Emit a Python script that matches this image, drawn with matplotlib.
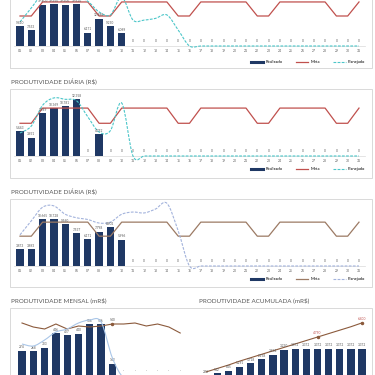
import matplotlib
matplotlib.use('Agg')
import matplotlib.pyplot as plt
from matplotlib.path import Path
from matplotlib.patches import PathPatch, Rectangle
from matplotlib.lines import Line2D
import numpy as np

plt.rcParams['font.family'] = ['Lato', 'DejaVu Sans']

# ---------------- data ----------------
days = ["01", "02", "03", "04", "05", "06", "07", "08", "09", "10", "11", "12", "13", "14", "15", "16",
        "17", "18", "19", "20", "21", "22", "23", "24", "25", "26", "27", "28", "29", "30", "31"]

p1_real = [9410, 7553, 19400, 19550, 19500, 19610, 6171, 12890, 9250, 6089,
           0, 0, 0, 0, 0, 0, 0, 0, 0, 0, 0, 0, 0, 0, 0, 0, 0, 0, 0, 0, 0]
p1_meta = [14100, 14100, 20700, 20700, 20700, 20700, 20700, 14100, 14100, 20700, 20700, 20700, 20700, 20700,
           14100, 14100, 20700, 20700, 20700, 20700, 20700, 14100, 14100, 20700, 20700, 20700, 20700, 20700,
           14100, 14100, 20700]
p1_plan = [11300, 17900, 24500, 25500, 24500, 23500, 21000, 16000, 14600, 23000, 12200, 12200, 13000, 14600,
           7500, 0, 0, 0, 0, 0, 0, 0, 0, 0, 0, 0, 0, 0, 0, 0, 0]

p2_real = [5443, 3931, 9349, 10369, 10781, 12358, 0, 4752, 0, 0,
           0, 0, 0, 0, 0, 0, 0, 0, 0, 0, 0, 0, 0, 0, 0, 0, 0, 0, 0, 0, 0]
p2_meta = [7100, 7100, 10400, 10400, 10400, 10400, 10400, 7100, 7100, 10400, 10400, 10400, 10400, 10400,
           7100, 7100, 10400, 10400, 10400, 10400, 10400, 7100, 7100, 10400, 10400, 10400, 10400, 10400,
           7100, 7100, 10400]
p2_plan = [5000, 6500, 11000, 12600, 12300, 12000, 8500, 5200, 5500, 11500, 0, 0, 0, 0, 0, 0,
           0, 0, 0, 0, 0, 0, 0, 0, 0, 0, 0, 0, 0, 0, 0]

p3_real = [3873, 3893, 10665, 10728, 9560, 7537, 6171, 7798, 8902, 5996,
           0, 0, 0, 0, 0, 0, 0, 0, 0, 0, 0, 0, 0, 0, 0, 0, 0, 0, 0, 0, 0]
p3_meta = [6800, 6800, 10000, 10000, 10000, 10000, 10000, 6800, 6800, 10000, 10000, 10000, 10000, 10000,
           6800, 6800, 10000, 10000, 10000, 10000, 10000, 6800, 6800, 10000, 10000, 10000, 10000, 10000,
           6800, 6800, 10000]
p3_plan = [7100, 10300, 13400, 13700, 11800, 11000, 10600, 9800, 10000, 11800, 12300, 12100, 13000, 14300,
           8000, 0, 0, 0, 0, 0, 0, 0, 0, 0, 0, 0, 0, 0, 0, 0, 0]

m_real = [274, 268, 303, 446, 427, 440, 536, 536, 142, 0, 0, 0, 0, 0, 0]
m_meta = [550, 510, 490, 540, 490, 520, 510, 520, 540, 540, 550, 520, 540, 510, 450]
m_plan = [340, 320, 380, 460, 490, 550, 580, 560, 200, 0, 0, 0, 0, 0, 0]

a_real = [274, 542, 845, 1291, 1718, 2158, 2694, 3230, 3372, 3372, 3372, 3372, 3372, 3372, 3372]
a_meta = [700, 1100, 1500, 1950, 2350, 2750, 3150, 3550, 3950, 4350, 4750, 5150, 5550, 5950, 6400]

# ---------------- helpers ----------------
W = H = 375.0
def fx(px): return px / W
def fy(px): return 1 - px / H

NAVY = '#1f3864'
RED = '#c0504d'
CYAN = '#4bc6c9'
BROWN = '#9c7a64'
LAV = '#a3b3dc'
DBROWN = '#8b5a3c'
LBLUE = '#a9c6e8'
GRAY = '#595959'

def fmt(v):
    return f"{v:,.0f}".replace(",", ".")

def smooth(ax, x, y, color, lw=0.8, ls='-'):
    P = np.column_stack([x, y]).astype(float)
    n = len(P)
    verts = [tuple(P[0])]
    codes = [Path.MOVETO]
    for i in range(n - 1):
        p0 = P[i - 1] if i > 0 else P[i]
        p1 = P[i]
        p2 = P[i + 1]
        p3 = P[i + 2] if i + 2 < n else P[i + 1]
        c1 = p1 + (p2 - p0) / 6.0
        c2 = p2 - (p3 - p1) / 6.0
        verts += [tuple(c1), tuple(c2), tuple(p2)]
        codes += [Path.CURVE4] * 3
    patch = PathPatch(Path(verts, codes), fill=False, edgecolor=color, lw=lw, linestyle=ls,
                      clip_on=False, zorder=4)
    ax.add_patch(patch)

fig = plt.figure(figsize=(3.75, 3.75), dpi=100)
fig.patch.set_facecolor('white')

def box(top, bottom, left=10, right=372):
    fig.add_artist(Rectangle((fx(left), fy(bottom)), fx(right - left), (bottom - top) / H,
                             transform=fig.transFigure, fill=False, ec='#d9d9d9', lw=0.7))

def daily_panel(base_px, height_px, scale, real, meta, plan, meta_col, plan_col, plan_ls, legend_y):
    ax = fig.add_axes([fx(14.35), fy(base_px), fx(364.65 - 14.35), height_px / H])
    x = np.arange(1, 32)
    ax.bar(x, real, width=0.65, color=NAVY, zorder=2)
    ax.plot(x, meta, color=meta_col, lw=0.9, zorder=3, clip_on=False)
    smooth(ax, x, plan, plan_col, lw=0.8, ls=plan_ls)
    ax.set_xlim(0.5, 31.5)
    ax.set_ylim(0, height_px * scale)
    for xi, v in zip(x, real):
        if v > 0:
            ax.annotate(fmt(v), (xi, v), xytext=(0, 1.0), textcoords='offset points',
                        ha='center', va='bottom', fontsize=2.3, color=GRAY, zorder=5)
        else:
            ax.annotate("0", (xi, 0), xytext=(0, 2.0), textcoords='offset points',
                        ha='center', va='bottom', fontsize=2.3, color=GRAY)
    ax.set_xticks(x)
    ax.set_xticklabels(days, fontsize=2.4, color=GRAY)
    ax.tick_params(length=0, pad=2)
    ax.set_yticks([])
    for s in ['top', 'right', 'left']:
        ax.spines[s].set_visible(False)
    ax.spines['bottom'].set_color('#d9d9d9')
    ax.spines['bottom'].set_linewidth(0.5)
    ax.patch.set_alpha(0)
    handles = [Line2D([], [], color=NAVY, lw=2.2),
               Line2D([], [], color=meta_col, lw=0.9),
               Line2D([], [], color=plan_col, lw=0.8, ls=plan_ls)]
    fig.legend(handles, ['Realizado', 'Meta', 'Planejado'], loc='center right',
               bbox_to_anchor=(fx(369), fy(legend_y)), bbox_transform=fig.transFigure,
               ncol=3, fontsize=3, frameon=False, handlelength=3.0, columnspacing=3.2,
               handletextpad=0.5)
    return ax

# Panel 1 (top, cropped)
box(-5, 68)
daily_panel(46, 66, 470, p1_real, p1_meta, p1_plan, RED, CYAN, (0, (2.5, 1.2)), 62)

# Panel 2
fig.text(fx(11), fy(82), 'PRODUTIVIDADE DIÁRIA (R$)', fontsize=4.5, color=GRAY, va='center', ha='left')
box(89, 178)
daily_panel(156, 64, 217, p2_real, p2_meta, p2_plan, RED, CYAN, (0, (2.5, 1.2)), 169)

# Panel 3
fig.text(fx(11), fy(192), 'PRODUTIVIDADE DIÁRIA (R$)', fontsize=4.5, color=GRAY, va='center', ha='left')
box(199, 287)
daily_panel(266, 66, 228, p3_real, p3_meta, p3_plan, BROWN, LAV, (0, (2.5, 1.2)), 279)

# Bottom panels
fig.text(fx(11), fy(300), 'PRODUTIVIDADE MENSAL (mR$)', fontsize=4.5, color=GRAY, va='center', ha='left')
fig.text(fx(199), fy(300), 'PRODUTIVIDADE ACUMULADA (mR$)', fontsize=4.5, color=GRAY, va='center', ha='left')
box(308, 385)

ax4 = fig.add_axes([fx(16.35), fy(378), fx(185.85 - 16.35), 66 / H])
xm = np.arange(15)
ax4.bar(xm, m_real, width=0.65, color=NAVY, zorder=2)
ax4.plot(xm, m_meta, color=DBROWN, lw=0.8, zorder=3)
ax4.plot([xm[8]], [m_meta[8]], marker='o', ms=1.5, color=DBROWN, zorder=4)
ax4.annotate(fmt(m_meta[8]), (xm[8], m_meta[8]), xytext=(0, 1.5), textcoords='offset points',
             ha='center', va='bottom', fontsize=2.3, color=GRAY)
smooth(ax4, xm, m_plan, LBLUE, lw=0.8)
for xi, v in zip(xm, m_real):
    ax4.annotate(fmt(v) if v > 0 else "-", (xi, v), xytext=(0, 1.2 if v > 0 else 3.5),
                 textcoords='offset points', ha='center', va='bottom', fontsize=2.3, color=GRAY)
ax4.set_xlim(-0.5, 14.5)
ax4.set_ylim(0, 660)
ax4.axis('off')

ax5 = fig.add_axes([fx(200.4), fy(378), fx(367.7 - 200.4), 66 / H])
ax5.bar(xm, a_real, width=0.65, color=NAVY, zorder=2)
ax5.plot(xm, a_meta, color=DBROWN, lw=0.8, zorder=3)
for i in [10, 14]:
    ax5.plot([xm[i]], [a_meta[i]], marker='o', ms=1.5, color=DBROWN, zorder=4)
    ax5.annotate(fmt(a_meta[i]), (xm[i], a_meta[i]), xytext=(0, 1.5), textcoords='offset points',
                 ha='center', va='bottom', fontsize=2.3, color='#c0504d')
for xi, v in zip(xm, a_real):
    ax5.annotate(fmt(v), (xi, v), xytext=(0, 1.2), textcoords='offset points',
                 ha='center', va='bottom', fontsize=2.3, color=GRAY)
ax5.set_xlim(-0.5, 14.5)
ax5.set_ylim(0, 7656)
ax5.axis('off')

fig.savefig('out.png', dpi=100, facecolor='white')
